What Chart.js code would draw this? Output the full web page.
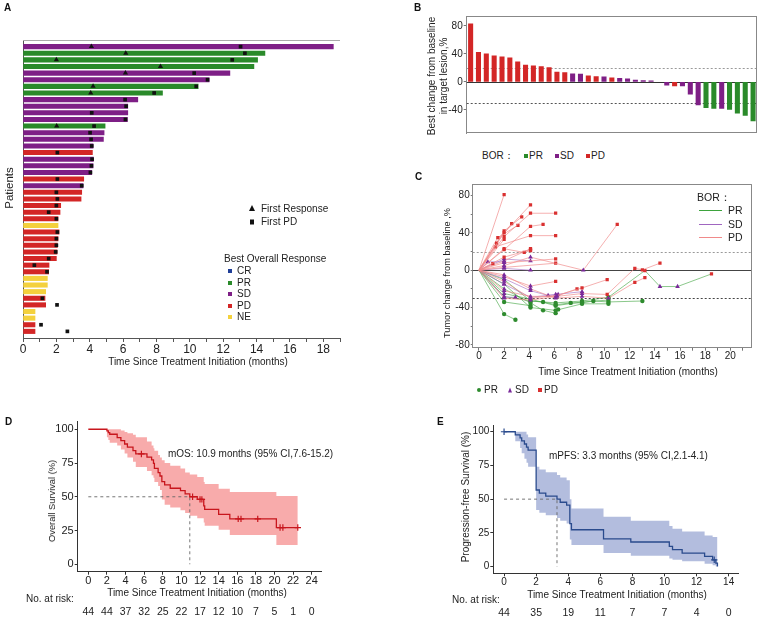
<!DOCTYPE html>
<html>
<head>
<meta charset="utf-8">
<script src="https://cdn.jsdelivr.net/npm/chart.js@4.4.1/dist/chart.umd.min.js"></script>
<style>
html,body{margin:0;padding:0;background:#fff}
#root{position:relative;width:762px;height:620px;overflow:hidden;font-family:"Liberation Sans",Arial,sans-serif;color:#222}
canvas{position:absolute}
.t{position:absolute;white-space:nowrap;font-size:10px;line-height:12px;transform:translateY(-50%)}
.c{transform:translate(-50%,-50%)}
.r{transform:translate(-50%,-50%) rotate(-90deg);text-align:center}
.L{position:absolute;font-weight:bold;font-size:10px;line-height:10px;color:#111}
.sh{position:absolute;transform:translate(-50%,-50%)}
.tri{width:0;height:0;border-left:3px solid transparent;border-right:3px solid transparent;border-bottom:6px solid #111}
.ln{position:absolute;height:0;width:23px}
</style>
</head>
<body>
<div id="root">
<canvas id="cA" width="345" height="375" style="left:0;top:0"></canvas>
<canvas id="cB" width="362" height="145" style="left:400px;top:0"></canvas>
<canvas id="cC" width="362" height="203" style="left:400px;top:165px"></canvas>
<canvas id="cD" width="330" height="220" style="left:0;top:400px"></canvas>
<canvas id="cE" width="332" height="220" style="left:430px;top:400px"></canvas>

<!-- Panel A texts -->
<div class="L" style="left:4px;top:3px">A</div>
<div class="t r" style="left:9px;top:188px;font-size:11.5px">Patients</div>
<div class="t c" style="left:198px;top:362px">Time Since Treatment Initiation (months)</div>
<div class="sh tri" style="left:252px;top:208px"></div>
<div class="t" style="left:261px;top:209px">First Response</div>
<div class="sh" style="left:252px;top:222px;width:4px;height:5px;background:#111"></div>
<div class="t" style="left:261px;top:222px">First PD</div>
<div class="t" style="left:224px;top:259px">Best Overall Response</div>
<div class="sh" style="left:230px;top:271px;width:4px;height:4px;background:#1F3E97"></div>
<div class="t" style="left:237px;top:271px">CR</div>
<div class="sh" style="left:230px;top:282.5px;width:4px;height:4px;background:#2A8A2A"></div>
<div class="t" style="left:237px;top:282.5px">PR</div>
<div class="sh" style="left:230px;top:294px;width:4px;height:4px;background:#7E1F86"></div>
<div class="t" style="left:237px;top:294px">SD</div>
<div class="sh" style="left:230px;top:305.5px;width:4px;height:4px;background:#D32626"></div>
<div class="t" style="left:237px;top:305.5px">PD</div>
<div class="sh" style="left:230px;top:317px;width:4px;height:4px;background:#F4D13D"></div>
<div class="t" style="left:237px;top:317px">NE</div>

<!-- Panel B texts -->
<div class="L" style="left:414px;top:3px">B</div>
<div class="t r" style="left:438px;top:76px;line-height:12px">Best change from baseline<br>in target lesion,%</div>
<div class="t" style="left:482px;top:155.5px">BOR：</div>
<div class="sh" style="left:526px;top:155.5px;width:4px;height:4px;background:#2A8A2A"></div>
<div class="t" style="left:529px;top:155.5px">PR</div>
<div class="sh" style="left:557px;top:155.5px;width:4px;height:4px;background:#7E1F86"></div>
<div class="t" style="left:560px;top:155.5px">SD</div>
<div class="sh" style="left:588px;top:155.5px;width:4px;height:4px;background:#D32626"></div>
<div class="t" style="left:591px;top:155.5px">PD</div>

<!-- Panel C texts -->
<div class="L" style="left:415px;top:172px">C</div>
<div class="t r" style="left:447px;top:273px;font-size:9.2px">Tumor change from baseline ,%</div>
<div class="t c" style="left:628px;top:372px">Time Since Treatment Initiation (months)</div>
<div class="t" style="left:697px;top:197px;font-size:10.5px">BOR：</div>
<div class="ln" style="left:699px;top:210px;border-top:1.5px solid #3DA33D"></div>
<div class="t" style="left:728px;top:210px;font-size:10.5px">PR</div>
<div class="ln" style="left:699px;top:223.5px;border-top:1.5px solid #A066C0"></div>
<div class="t" style="left:728px;top:223.5px;font-size:10.5px">SD</div>
<div class="ln" style="left:699px;top:237px;border-top:1.5px solid #F08A8A"></div>
<div class="t" style="left:728px;top:237px;font-size:10.5px">PD</div>
<div class="sh" style="left:479px;top:390px;width:4px;height:4px;border-radius:50%;background:#2E8B2E"></div>
<div class="t" style="left:484px;top:390px">PR</div>
<div class="sh" style="left:510px;top:389.5px;width:0;height:0;border-left:2.5px solid transparent;border-right:2.5px solid transparent;border-bottom:5px solid #7A2A9A"></div>
<div class="t" style="left:515px;top:390px">SD</div>
<div class="sh" style="left:540px;top:390px;width:4px;height:4px;background:#D93030"></div>
<div class="t" style="left:544px;top:390px">PD</div>

<!-- Panel D texts -->
<div class="L" style="left:5px;top:417px">D</div>
<div class="t r" style="left:52px;top:501px;font-size:9.3px">Overall Survival (%)</div>
<div class="t c" style="left:197px;top:592.5px">Time Since Treatment Initiation (months)</div>
<div class="t" style="left:168px;top:454px">mOS: 10.9 months (95% CI,7.6-15.2)</div>
<div class="t" style="left:26px;top:599px">No. at risk:</div>

<!-- Panel E texts -->
<div class="L" style="left:437px;top:417px">E</div>
<div class="t r" style="left:466px;top:497px">Progression-free Survival (%)</div>
<div class="t c" style="left:617px;top:595px">Time Since Treatment Initiation (months)</div>
<div class="t" style="left:549px;top:456px">mPFS: 3.3 months (95% CI,2.1-4.1)</div>
<div class="t" style="left:452px;top:600px">No. at risk:</div>
</div>

<script>
// ================= DATA =================
// Panel A: swimmer plot (patients 1..44 from top)
const swimPatients = [1,2,3,4,5,6,7,8,9,10,11,12,13,14,15,16,17,18,19,20,21,22,23,24,25,26,27,28,29,30,31,32,33,34,35,36,37,38,39,40,41,42,43,44];
const swimEnd = [18.6,14.5,14.06,13.84,12.4,11.16,10.5,8.36,6.88,6.28,6.28,6.26,4.92,4.86,4.82,4.2,4.16,4.22,4.2,4.12,3.64,3.6,3.52,3.48,2.26,2.22,2.1,2.1,2.16,2.1,2.06,2.04,2.0,1.56,1.54,1.46,1.46,1.36,1.32,1.36,0.72,0.72,0.72,0.72];
const swimBor = ['SD','PR','PR','PR','SD','SD','PR','PR','SD','SD','SD','SD','PR','SD','SD','SD','PD','SD','SD','SD','PD','SD','PD','PD','PD','PD','PD','NE','PD','PD','PD','PD','PD','PD','PD','NE','NE','NE','PD','PD','NE','NE','PD','PD'];
const respPatient = [1,2,3,4,5,7,8,13];
const respTime = [4.1,6.16,2.0,8.24,6.14,4.2,4.06,2.02];
const pdPatient = [1,2,3,5,6,7,8,9,10,11,12,13,14,15,16,17,18,19,20,21,22,23,24,25,26,27,29,30,31,32,33,34,35,39,40,43,44];
const pdTime = [13.04,13.3,12.54,10.26,11.06,10.38,7.86,6.12,6.18,4.12,6.14,4.26,4.02,4.08,4.12,2.06,4.14,4.1,4.04,2.06,3.52,2.0,2.06,2.0,1.54,2.0,2.06,2.0,2.0,1.96,1.54,0.68,1.44,1.16,2.04,1.08,2.66];

// Panel B: waterfall
const bestChange = [83,42,40,37,35.7,34.3,28.6,23.8,22.9,21.9,20.5,13.8,13.3,11.4,11,8.6,7.6,7.1,5.7,5.2,4.3,2.4,1.9,1.4,0,-4.8,-5.7,-5.7,-17.6,-32.9,-36.7,-38,-38,-39.5,-44.8,-48,-55.7];
const bestBor = ['PD','PD','PD','PD','PD','PD','PD','PD','PD','PD','PD','PD','PD','SD','SD','PD','PD','SD','PD','SD','SD','SD','SD','SD','','SD','PD','SD','SD','SD','PR','PR','SD','PR','PR','PR','PR'];

// Panel C: spider plot (time in months, % change, response at each assessment after baseline)
const spiderBor = ['PD','PD','PD','PD','PD','PD','PD','PD','PD','PD','PD','PD','PD','PD','PD','PD','PD','PD','PD','PD','PD','SD','SD','SD','SD','SD','SD','PR','PR','PR','PR','PR','PR','PR'];
const spiderT = [
 [0,2],[0,2,4.1],[0,2,4.1,6.1],[0,1.4,2.6],[0,1.5,3.1],[0,2,3.4],[0,2,4.1,5.1],[0,1.3,4.1,6.1],[0,2,4.1],[0,2],
 [0,2,3.6,4.1],[0,1.1],[0,2,4.1],[0,2,4.1,8.3,11],[0,2,6.1],[0,2,6.1],[0,2,4.1,6.1],[0,2,4.1,6.2,8.2,10.2],[0,2,4.1,6.1,7.8],
 [0,2,4.1,6.2,8.2,10.2,12.4,13,14.4],[0,2,4.1,6.1,8.2,10.3,12.4,13.2],
 [0,0.7,2],[0,2,4.1],[0,2,2.9],[0,2,4.1,5.5,6.3],[0,2,4.1],[0,2,4.1,6.1,8.2],
 [0,2,2.9],[0,2,4.1],[0,2,4.1,5.1,6.1,7.3,8.2,9.1,10.3,13],[0,2,4.1,5.1,6.1,6.3],[0,2,4.1,6.1,8.2,10.3],
 [0,2,4.1,6.1,8.2,10.3,13.2,14.4,15.8,18.5],[0,2,4.1,6.1,8.2,10.3]
];
const spiderV = [
 [0,81],[0,40,70],[0,36,61,61],[0,29,50],[0,35,48],[0,42,57],[0,22,47,49],[0,25,37,37],[0,14,22],[0,33],
 [0,23,19,21],[0,7],[0,10,23],[0,5,14,0,49],[0,8,12],[0,3,7.5],[0,-7,-17,-12],[0,-12,-30,-27,-19,-10],[0,-22,-28,-28,-20],
 [0,-30,-32,-28,-25,-26,2,0.4,7.5],[0,-5,-20,-30,-28,-30,-13,-8],
 [0,9,9],[0,2,0],[0,-29,-29],[0,-9,-22,-27,-26],[0,12,10],[0,-15,-29,-26,-23],
 [0,-47,-53],[0,-34,-38],[0,-28,-33,-34,-37,-35,-35,-33,-34,-33],[0,-20,-35,-43,-46,-42],[0,-15,-40,-43,-36,-36],
 [0,-10,-33,-35,-33,-29,-0.4,-17.5,-17.5,-4],[0,-25,-31,-38,-34,-32]
];
const spiderR = [
 ['PD'],['PD','PD'],['PD','PD','PD'],['PD','PD'],['PD','PD'],['PD','PD'],['PD','PD','PD'],['PD','PD','PD'],['PD','PD'],['PD'],
 ['PD','PD','PD'],['PD'],['SD','PD'],['SD','SD','SD','PD'],['SD','PD'],['SD','PD'],['SD','SD','PD'],['SD','SD','SD','PD','PD'],['SD','SD','SD','PD'],
 ['SD','SD','SD','SD','PD','PD','PD','PD'],['SD','SD','SD','SD','SD','PD','PD'],
 ['SD','SD'],['SD','SD'],['SD','SD'],['SD','SD','SD','SD'],['SD','SD'],['SD','SD','SD','SD'],
 ['PR','PR'],['PR','PR'],['SD','PR','PR','PR','PR','PR','PR','PR','PR'],['SD','PR','PR','PR','PR'],['SD','PR','PR','PR','PR'],
 ['SD','PR','PR','PR','PR','PD','SD','SD','PD'],['SD','SD','PR','PR','PR']
];

// Panel D: overall survival
const osTime  = [0,2.0,2.15,2.3,3.1,3.5,3.9,4.2,4.8,5.1,6.3,6.8,7.0,7.1,7.5,7.7,7.9,8.2,8.8,9.9,10.4,10.9,11.7,12.4,12.5,14.0,15.2,20.2,22.5];
const osSurv  = [100,98.8,97.5,96.3,93.8,91.6,89.1,86.7,84.2,81.7,79.3,77.3,74.8,71.1,67.9,65.4,61.2,58.8,56.3,54.6,52.1,50.0,48.1,43.2,40.7,37.0,33.6,27.2,27.2];
const osUpper = [100,100,100,100,100,99,98,97,96,94,91,88,86,84,81,79,77,75,73,71,68,66.5,64.7,61,59.5,56,53.5,50.6,50.6];
const osLower = [100,94,92,90,88,85,82,79,76,72,69,66,64,61,58,55,48,44,42,40,38,36,34,31,28.5,25.5,21.7,14.3,14.3];
const osCensor = [5.7,11.2,12.0,12.2,16.1,16.4,18.2,20.6,20.9,22.5];
const osMedian = 10.9;
const osRiskTime = [0,2,4,6,8,10,12,14,16,18,20,22,24];
const osRisk = [44,44,37,32,25,22,17,12,10,7,5,1,0];

// Panel E: progression-free survival
const pfsTime  = [0,0.7,1.0,1.1,1.27,1.4,1.5,2.0,2.2,2.6,3.3,3.5,3.9,4.1,4.2,6.2,7.9,10.3,10.5,11.1,12.5,13.0,13.2,13.3];
const pfsSurv  = [100,97.7,95.5,93.2,90.9,88.6,86.4,56.8,54.5,52.3,50.0,47.7,45.5,31.8,27.3,20.5,18.2,15.0,12.5,10.0,7.5,5.0,2.5,0];
const pfsUpper = [100,100,100,100,100,98,96,74,72,70,68,66,64,50,43,37,34,30,28,26,23,22,22,22];
const pfsLower = [100,93,88,84,80,77,74,42,40,38,36,34,32,20,16,10,8,6,5,4,2,1,0,0];
const pfsCensor = [0,13.1];
const pfsMedian = 3.3;
const pfsRiskTime = [0,2,4,6,8,10,12,14];
const pfsRisk = [44,35,19,11,7,7,4,0];

// ================= STYLE =================
const FONT = '"Liberation Sans", Arial, sans-serif';
const BOR_COL = {CR:'#1F3E97', PR:'#2A8A2A', SD:'#7E1F86', PD:'#D32626', NE:'#F4D13D', '':'rgba(0,0,0,0)'};
const LINE_COL = {PR:'rgba(61,163,61,0.75)', SD:'rgba(160,102,192,0.75)', PD:'rgba(240,138,138,0.85)'};
const MARK_COL = {PR:'#2E8B2E', SD:'#7A2A9A', PD:'#D93030'};
const MARK_STYLE = {PR:'circle', SD:'triangle', PD:'rect'};
const MARK_R = {PR:2.2, SD:2.7, PD:2.3};

Chart.defaults.font.family = FONT;
Chart.defaults.color = '#222';
Chart.defaults.animation = false;
Chart.defaults.responsive = false;
Chart.defaults.maintainAspectRatio = false;
Chart.defaults.events = [];
Chart.defaults.plugins.legend.display = false;
Chart.defaults.plugins.tooltip.enabled = false;

const decor = {
  id: 'decor',
  beforeDatasetsDraw(chart, args, o) {
    const {ctx, chartArea: a, scales} = chart;
    ctx.save();
    (o.hlines || []).forEach(l => {
      const y = Math.round(scales.y.getPixelForValue(l.v)) + 0.5;
      ctx.beginPath();
      ctx.setLineDash(l.dash || []);
      ctx.strokeStyle = l.color; ctx.lineWidth = l.w || 1;
      ctx.moveTo(a.left, y); ctx.lineTo(a.right, y); ctx.stroke();
    });
    ctx.setLineDash([]);
    (o.frame || []).forEach(f => {
      ctx.beginPath(); ctx.strokeStyle = f.color; ctx.lineWidth = 1;
      if (f.side === 'top') { ctx.moveTo(a.left, Math.round(a.top) + 0.5); ctx.lineTo(a.right, Math.round(a.top) + 0.5); }
      if (f.side === 'right') { ctx.moveTo(Math.round(a.right) - 0.5, a.top); ctx.lineTo(Math.round(a.right) - 0.5, a.bottom); }
      if (f.side === 'bottom') { ctx.moveTo(a.left, Math.round(a.bottom) - 0.5); ctx.lineTo(a.right, Math.round(a.bottom) - 0.5); }
      ctx.stroke();
    });
    ctx.restore();
  },
  afterDraw(chart, args, o) {
    if (!o.risk) return;
    const {ctx, scales} = chart;
    ctx.save();
    ctx.font = '10.5px ' + FONT; ctx.fillStyle = '#222';
    ctx.textAlign = 'center'; ctx.textBaseline = 'middle';
    o.risk.t.forEach((t, i) => ctx.fillText(String(o.risk.n[i]), scales.x.getPixelForValue(t), o.risk.y));
    ctx.restore();
  }
};
Chart.register(decor);

const fixW = w => s => { s.width = w; };
const fixH = h => s => { s.height = h; };
const stepAt = (ts, vs, t) => { let v = vs[0]; for (let i = 0; i < ts.length; i++) if (ts[i] <= t) v = vs[i]; return v; };

// ================= PANEL A =================
new Chart(document.getElementById('cA'), {
  type: 'scatter',
  data: { datasets: [
    { type: 'bar', indexAxis: 'y', data: swimEnd.map((e, i) => ({x: e, y: swimPatients[i]})),
      backgroundColor: swimBor.map(b => BOR_COL[b]), barThickness: 4.4, borderWidth: 0, order: 3 },
    { type: 'scatter', data: respPatient.map((p, i) => ({x: respTime[i], y: p})), pointStyle: 'triangle',
      pointRadius: 3, backgroundColor: '#111', borderColor: '#111', borderWidth: 0, order: 1 },
    { type: 'scatter', data: pdPatient.map((p, i) => ({x: pdTime[i], y: p})), pointStyle: 'rect',
      pointRadius: 2.6, backgroundColor: '#111', borderColor: '#111', borderWidth: 0, order: 2 }
  ]},
  options: {
    layout: { padding: {top: 40, right: 5, left: 0, bottom: 0} },
    scales: {
      x: { type: 'linear', min: 0, max: 19, offset: false,
        ticks: { stepSize: 1, autoSkip: false, maxRotation: 0, includeBounds: false, padding: 0, font: {size: 12}, color: '#222',
          callback: v => (v % 2 === 0 ? v : '') },
        grid: { display: true, offset: false, drawOnChartArea: false, tickLength: 4, color: '#555' },
        border: { color: '#555' }, afterFit: fixH(37) },
      y: { type: 'linear', reverse: true, min: 0, max: 45, offset: false, ticks: { display: false },
        grid: { display: false, offset: false }, border: { display: true, color: '#555' }, afterFit: fixW(23) }
    },
    plugins: { decor: { frame: [{side: 'top', color: '#aaa'}] } }
  }
});

// ================= PANEL B =================
new Chart(document.getElementById('cB'), {
  type: 'bar',
  data: { labels: bestChange.map((_, i) => i + 1), datasets: [
    { data: bestChange, backgroundColor: bestBor.map(b => BOR_COL[b]), barThickness: 4.4, borderWidth: 0 }
  ]},
  options: {
    layout: { padding: {top: 16, right: 5, left: 0, bottom: 0} },
    scales: {
      x: { ticks: { display: false }, grid: { display: false }, border: { display: false }, afterFit: fixH(12) },
      y: { min: -73, max: 94,
        ticks: { stepSize: 40, includeBounds: false, padding: 1, font: {size: 10}, color: '#222' },
        grid: { drawOnChartArea: false, tickLength: 3, color: '#777' }, border: { color: '#888' }, afterFit: fixW(66.7) }
    },
    plugins: { decor: {
      hlines: [{v: 20, color: '#999', dash: [2, 2]}, {v: -30, color: '#555', dash: [2, 2]}, {v: 0, color: '#333'}],
      frame: [{side: 'top', color: '#888'}, {side: 'right', color: '#888'}, {side: 'bottom', color: '#888'}] } }
  }
});

// ================= PANEL C =================
const cSets = spiderT.map((ts, i) => ({
  type: 'scatter', showLine: true,
  data: ts.map((t, j) => ({x: t, y: spiderV[i][j]})),
  borderColor: LINE_COL[spiderBor[i]], borderWidth: 0.8,
  pointStyle: ts.map((t, j) => j === 0 ? 'circle' : MARK_STYLE[spiderR[i][j - 1]]),
  pointRadius: ts.map((t, j) => j === 0 ? 0 : MARK_R[spiderR[i][j - 1]]),
  pointBackgroundColor: ts.map((t, j) => j === 0 ? MARK_COL.PD : MARK_COL[spiderR[i][j - 1]]),
  pointBorderColor: ts.map((t, j) => j === 0 ? MARK_COL.PD : MARK_COL[spiderR[i][j - 1]]),
  pointBorderWidth: 0
}));
new Chart(document.getElementById('cC'), {
  type: 'scatter',
  data: { datasets: cSets },
  options: {
    layout: { padding: {top: 19.3, right: 10.3, left: 0, bottom: 0} },
    scales: {
      x: { type: 'linear', min: -0.5, max: 21.7,
        ticks: { stepSize: 1, autoSkip: false, maxRotation: 0, includeBounds: false, padding: 0, font: {size: 10}, color: '#222',
          callback: v => (v % 2 === 0 ? v : '') },
        grid: { drawOnChartArea: false, tickLength: 3, color: '#777' }, border: { color: '#888' }, afterFit: fixH(20.3) },
      y: { type: 'linear', min: -83, max: 92,
        ticks: { stepSize: 20, autoSkip: false, includeBounds: false, padding: 1, font: {size: 10}, color: '#222',
          callback: v => (v % 40 === 0 ? v : '') },
        grid: { drawOnChartArea: false, tickLength: 2, color: '#777' }, border: { color: '#888' }, afterFit: fixW(72.7) }
    },
    plugins: { decor: {
      hlines: [{v: 20, color: '#999', dash: [2, 2]}, {v: -30, color: '#444', dash: [2, 2]}, {v: 0, color: '#444'}],
      frame: [{side: 'top', color: '#888'}, {side: 'right', color: '#888'}] } }
  }
});

// ================= KM helper =================
function kmChart(id, o) {
  const sets = [
    { data: o.time.map((t, i) => ({x: t, y: o.surv[i]})), showLine: true, stepped: true,
      borderColor: o.line, borderWidth: 1.3, pointRadius: 0, order: 0 },
    { data: o.censor.map(t => ({x: t, y: stepAt(o.time, o.surv, t)})), showLine: false, pointStyle: 'cross',
      pointRadius: 3.2, borderColor: o.line, backgroundColor: o.line, borderWidth: 1.2, order: 0 },
    { data: [{x: 0, y: 50}, {x: o.median, y: 50}, {x: o.median, y: 0}], showLine: true, borderColor: '#666',
      borderDash: [3, 3], borderWidth: 0.9, pointRadius: 0, order: 3 },
    { data: o.time.map((t, i) => ({x: t, y: o.upper[i]})), showLine: true, stepped: true, borderWidth: 0,
      borderColor: 'rgba(0,0,0,0)', pointRadius: 0, fill: '+1', backgroundColor: o.band, order: 5 },
    { data: o.time.map((t, i) => ({x: t, y: o.lower[i]})), showLine: true, stepped: true, borderWidth: 0,
      borderColor: 'rgba(0,0,0,0)', pointRadius: 0, fill: false, order: 6 }
  ];
  new Chart(document.getElementById(id), {
    type: 'scatter',
    data: { datasets: sets },
    options: {
      layout: { padding: {top: o.padTop, right: o.padRight, left: 0, bottom: 0} },
      scales: {
        x: { type: 'linear', min: o.xmin, max: o.xmax,
          ticks: { stepSize: 2, autoSkip: false, maxRotation: 0, includeBounds: false, padding: 0, font: {size: o.tickFont}, color: '#222' },
          grid: { drawOnChartArea: false, tickLength: 3, color: '#333' }, border: { color: '#333' }, afterFit: fixH(o.xH) },
        y: { type: 'linear', min: o.ymin, max: o.ymax,
          ticks: { stepSize: 25, autoSkip: false, includeBounds: false, padding: 1, font: {size: o.tickFont}, color: '#222' },
          grid: { drawOnChartArea: false, tickLength: 3, color: '#333' }, border: { color: '#333' }, afterFit: fixW(o.yW) }
      },
      plugins: { decor: { risk: { t: o.riskT, n: o.risk, y: o.riskY } } }
    }
  });
}

kmChart('cD', { time: osTime, surv: osSurv, upper: osUpper, lower: osLower, censor: osCensor, median: osMedian,
  line: '#C8161D', band: 'rgba(246,150,150,0.8)', xmin: -1.14, xmax: 25.07, ymin: -5.5, ymax: 105.6,
  padTop: 21.7, padRight: 8.3, xH: 48.3, yW: 77.7, tickFont: 11, riskT: osRiskTime, risk: osRisk, riskY: 211.7 });

kmChart('cE', { time: pfsTime, surv: pfsSurv, upper: pfsUpper, lower: pfsLower, censor: pfsCensor, median: pfsMedian,
  line: '#2A4B8D', band: 'rgba(160,172,214,0.8)', xmin: -0.67, xmax: 14.6, ymin: -5, ymax: 105,
  padTop: 25, padRight: 23.7, xH: 46.7, yW: 63.3, tickFont: 10, riskT: pfsRiskTime, risk: pfsRisk, riskY: 213 });
</script>
</body>
</html>
